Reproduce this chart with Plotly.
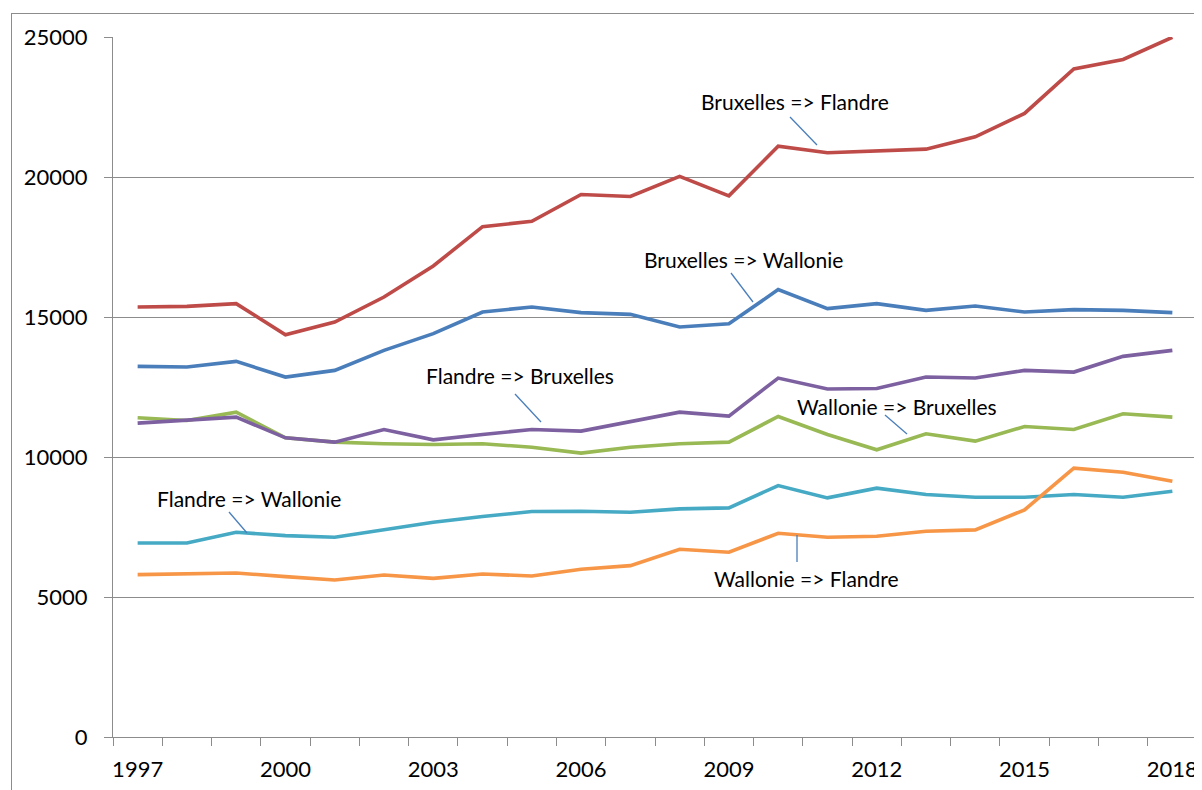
import plotly.graph_objects as go

years = list(range(1997, 2019))

bxl_fl = [15358, 15381, 15477, 14368, 14821, 15715, 16823, 18225, 18417, 19376, 19305,
          20024, 19327, 21102, 20864, 20935, 20995, 21436, 22270, 23856, 24200, 24990]
bxl_wal = [13236, 13212, 13415, 12855, 13093, 13808, 14404, 15179, 15358, 15155, 15095,
           14642, 14761, 15977, 15298, 15477, 15238, 15393, 15179, 15262, 15238, 15155]
fl_bxl = [11210, 11305, 11424, 10685, 10530, 10983, 10614, 10805, 10983, 10924, 11269,
          11603, 11460, 12819, 12426, 12449, 12855, 12819, 13093, 13033, 13594, 13808]
wal_bxl = [11400, 11305, 11603, 10685, 10530, 10471, 10447, 10471, 10351, 10137, 10351,
           10471, 10530, 11448, 10804, 10256, 10828, 10566, 11090, 10983, 11543, 11424]
fl_wal = [6931, 6931, 7312, 7193, 7134, 7396, 7670, 7873, 8052, 8063, 8027,
          8147, 8182, 8981, 8540, 8886, 8659, 8564, 8564, 8659, 8564, 8778]
wal_fl = [5799, 5822, 5858, 5727, 5608, 5787, 5667, 5822, 5751, 5989, 6120,
          6704, 6597, 7276, 7133, 7169, 7348, 7396, 8111, 9601, 9458, 9136]

series_names = ["Bruxelles => Wallonie", "Bruxelles => Flandre", "Wallonie => Bruxelles",
                "Flandre => Bruxelles", "Flandre => Wallonie", "Wallonie => Flandre"]
series_values = [bxl_wal, bxl_fl, wal_bxl, fl_bxl, fl_wal, wal_fl]
series_colors = ["#4A7EBB", "#BE4B48", "#98B954", "#7D60A0", "#46AAC5", "#F79646"]

x_tick_labels = [1997, 2000, 2003, 2006, 2009, 2012, 2015, 2018]
y_tick_values = [0, 5000, 10000, 15000, 20000, 25000]

FONT = "Lato, 'Open Sans', sans-serif"
GRID = "#8C8C8C"

# the page body has an 8px default margin: figure is offset by (8, 8) on screen
OFF = 8
# plot area geometry in screen pixels
SL, ST, SR, SB = 113, 37, 1197, 737
PW, PH = SR - SL, SB - ST
W, H = 1202 - OFF, 790 - OFF
XMIN, XMAX = 1996.5, 2018.5
YMIN, YMAX = 0, 25000


def px2x(px):
    return XMIN + (px - SL) / PW * (XMAX - XMIN)


def py2y(py):
    return YMAX - (py - ST) / PH * (YMAX - YMIN)


def px2paper(px):
    return (px - SL) / PW


def py2paper(py):
    return (SB - py) / PH


fig = go.Figure()
for name, vals, col in zip(series_names, series_values, series_colors):
    fig.add_trace(go.Scatter(x=years, y=vals, mode="lines", name=name,
                             line=dict(color=col, width=3.6), hoverinfo="x+y+name"))

# data labels: (text, text center px, connector from px, connector to px) in screen px
labels = [
    ("Bruxelles => Flandre", (795, 101), (790, 117), (817, 145)),
    ("Bruxelles => Wallonie", (743, 259), (731, 273), (753, 302)),
    ("Flandre => Bruxelles", (520, 375), (515, 394), (541, 422)),
    ("Wallonie => Bruxelles", (897, 406), (885, 415), (907, 434)),
    ("Flandre => Wallonie", (249, 498), (229, 512), (247, 533)),
    ("Wallonie => Flandre", (806, 578), (797, 535), (797, 562)),
]

annotations = []
shapes = []
for text, (cx, cy), (x0, y0), (x1, y1) in labels:
    annotations.append(dict(x=px2x(cx), y=py2y(cy), xref="x", yref="y", text=text,
                            showarrow=False, xanchor="center", yanchor="middle",
                            font=dict(family=FONT, size=21, color="#000000")))
    shapes.append(dict(type="line", xref="x", yref="y", x0=px2x(x0), y0=py2y(y0),
                       x1=px2x(x1), y1=py2y(y1), line=dict(color="#4A7EBB", width=1.3)))

# outer chart border (right and bottom edges cropped off in the reference):
# top edge as a thin filled box, left edge as a thin filled box
annotations.append(dict(xref="paper", yref="paper", x=px2paper(10.5), y=py2paper(12.5),
                        xanchor="left", yanchor="top", text=" ", showarrow=False,
                        font=dict(size=1), width=1300, height=1, borderwidth=0,
                        borderpad=0, bgcolor=GRID))
annotations.append(dict(xref="paper", yref="paper", x=px2paper(10.5), y=py2paper(12.5),
                        xanchor="left", yanchor="top", text=" ", showarrow=False,
                        font=dict(size=1), width=1, height=800, borderwidth=0,
                        borderpad=0, bgcolor=GRID))

fig.update_layout(
    width=W, height=H,
    margin=dict(l=SL - OFF, r=W - (SR - OFF), t=ST - OFF, b=H - (SB - OFF), pad=0,
                autoexpand=False),
    paper_bgcolor="white", plot_bgcolor="white",
    showlegend=False,
    font=dict(family=FONT, size=22, color="#000000"),
    annotations=annotations,
    shapes=shapes,
    xaxis=dict(range=[XMIN, XMAX], tickmode="array", tickvals=x_tick_labels,
               ticktext=[str(v) for v in x_tick_labels], ticks="", showgrid=False,
               showline=True, linecolor=GRID, linewidth=1.3, zeroline=False,
               ticklabelstandoff=12, automargin=False,
               minor=dict(tickmode="array", tickvals=[XMIN + i for i in range(23)],
                          ticks="outside", ticklen=8, tickcolor=GRID, tickwidth=1.3,
                          showgrid=False),
               tickfont=dict(family=FONT, size=22, color="#000000"), fixedrange=True),
    yaxis=dict(range=[YMIN, YMAX], tickmode="array", tickvals=y_tick_values,
               ticktext=[str(v) for v in y_tick_values],
               ticks="outside", ticklen=8, tickcolor=GRID, tickwidth=1.3,
               showgrid=True, gridcolor=GRID, gridwidth=1.3,
               showline=True, linecolor=GRID, linewidth=1.3, zeroline=False,
               ticklabelstandoff=12, automargin=False,
               tickfont=dict(family=FONT, size=22, color="#000000"), fixedrange=True),
)

fig.write_html("out.html")
